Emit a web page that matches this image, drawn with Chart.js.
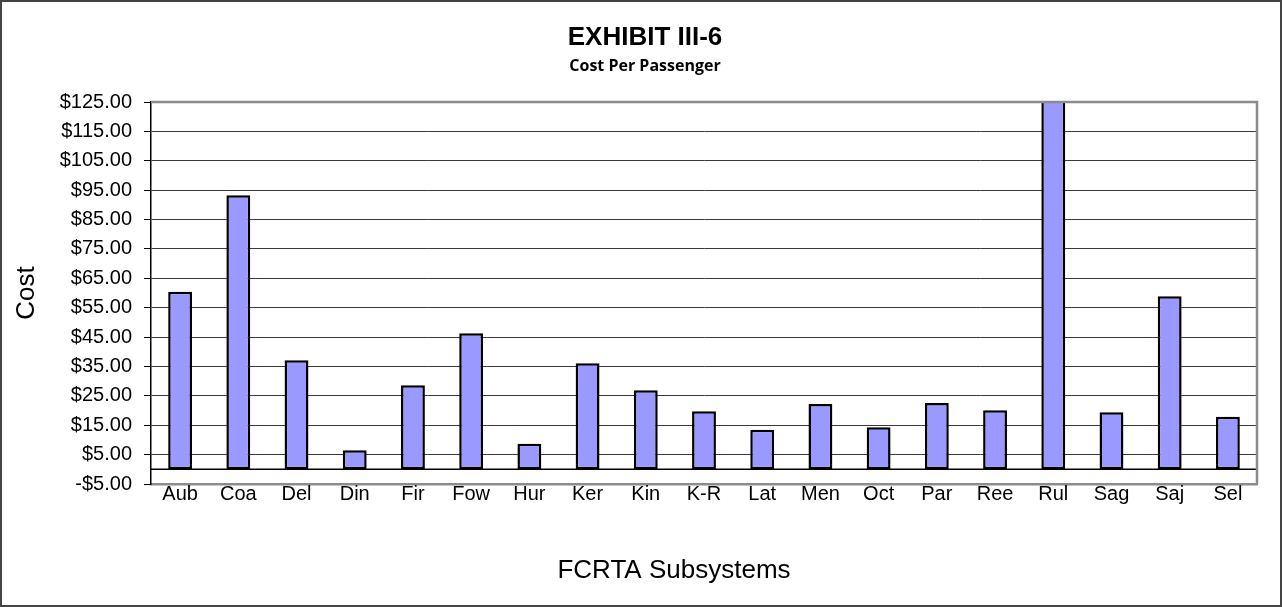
<!DOCTYPE html>
<html>
<head>
<meta charset="utf-8">
<title>Exhibit III-6</title>
<script src="https://cdn.jsdelivr.net/npm/chart.js@4.4.1/dist/chart.umd.min.js"></script>
<style>
    html, body { margin: 0; padding: 0; background: #fff; }
    #wrap { width: 1282px; height: 607px; }
</style>
</head>
<body>
<div id="wrap"><canvas id="costChart" width="1282" height="607"></canvas></div>
<script>
// Dados do gráfico
var subsistemas = ['Aub', 'Coa', 'Del', 'Din', 'Fir', 'Fow', 'Hur', 'Ker', 'Kin', 'K-R',
                   'Lat', 'Men', 'Oct', 'Par', 'Ree', 'Rul', 'Sag', 'Saj', 'Sel'];
var custoPorPassageiro = [60.4, 93.3, 37.1, 6.5, 28.6, 46.3, 8.7, 36.1, 26.9, 19.8,
                          13.5, 22.2, 14.3, 22.6, 20.1, 150.0, 19.4, 58.9, 17.9];
var yTicks = [-5, 5, 15, 25, 35, 45, 55, 65, 75, 85, 95, 105, 115, 125];

var tituloPrincipal = 'EXHIBIT III-6';
var subtitulo = 'Cost Per Passenger';
var tituloEixoX = 'FCRTA Subsystems';

(function() {
    Chart.defaults.font.family = "'Liberation Sans', Arial, sans-serif";
    Chart.defaults.color = '#000';

    function formatMoeda(value) {
        if (value < 0) return '-$' + Math.abs(value).toFixed(2);
        return '$' + value.toFixed(2);
    }

    // Titulos, linha do zero e bordas
    var decoracao = {
        id: 'decoracao',
        afterDatasetsDraw: function(chart) {
            var ctx = chart.ctx;
            var area = chart.chartArea;
            var y0 = chart.scales.y.getPixelForValue(0);
            ctx.save();
            ctx.strokeStyle = '#000';
            ctx.lineWidth = 1.5;
            ctx.beginPath();
            ctx.moveTo(area.left, y0);
            ctx.lineTo(area.right, y0);
            ctx.stroke();

            // borda cinza do plot (topo e direita)
            ctx.strokeStyle = '#8c8c8c';
            ctx.lineWidth = 2.5;
            ctx.beginPath();
            ctx.moveTo(area.left, area.top);
            ctx.lineTo(area.right, area.top);
            ctx.lineTo(area.right, area.bottom);
            ctx.stroke();
            ctx.restore();
        },
        afterDraw: function(chart) {
            var ctx = chart.ctx;
            ctx.save();
            ctx.fillStyle = '#000';
            ctx.textAlign = 'center';
            ctx.textBaseline = 'middle';
            ctx.font = "bold 26px 'Liberation Sans', Arial, sans-serif";
            ctx.fillText(tituloPrincipal, 645, 38);
            ctx.font = "bold 16px 'Open Sans', sans-serif";
            ctx.fillText(subtitulo, 645, 66);
            ctx.font = "26px 'Liberation Sans', Arial, sans-serif";
            ctx.fillText(tituloEixoX, 674, 571);

            // moldura externa
            ctx.strokeStyle = '#444';
            ctx.lineWidth = 2;
            ctx.strokeRect(1, 1, chart.width - 2, chart.height - 2);
            ctx.restore();
        }
    };

    var ctx = document.getElementById('costChart');

    new Chart(ctx, {
        type: 'bar',
        data: {
            labels: subsistemas,
            datasets: [{
                label: 'Cost',
                data: custoPorPassageiro,
                backgroundColor: '#9999ff',
                borderColor: '#000',
                borderWidth: 2.5,
                borderSkipped: false,
                barPercentage: 0.41,
                categoryPercentage: 1,
                clip: 0
            }]
        },
        options: {
            responsive: false,
            animation: false,
            devicePixelRatio: 1,
            layout: { padding: { left: 0, right: 25, top: 102, bottom: 0 } },
            plugins: {
                legend: { display: false },
                tooltip: { enabled: false }
            },
            scales: {
                x: {
                    grid: { display: false, drawTicks: false },
                    border: { display: true, color: '#8c8c8c', width: 2.5 },
                    ticks: { font: { size: 20 }, padding: -2, maxRotation: 0, autoSkip: false },
                    afterFit: function(scale) { scale.height = 123; }
                },
                y: {
                    min: -5,
                    max: 125,
                    afterBuildTicks: function(scale) {
                        scale.ticks = yTicks.map(function(v) { return { value: v }; });
                    },
                    grid: {
                        color: function(c) {
                            var v = c.tick ? c.tick.value : 0;
                            return (v === -5 || v === 125) ? '#8c8c8c' : '#3a3a3a';
                        },
                        lineWidth: 1,
                        drawTicks: true,
                        tickLength: 7,
                        tickColor: '#000'
                    },
                    border: { display: true, color: '#000', width: 1.5 },
                    ticks: {
                        font: { size: 20 },
                        padding: 12,
                        callback: function(value) { return formatMoeda(value); }
                    },
                    title: {
                        display: true,
                        text: 'Cost',
                        font: { size: 26 },
                        padding: { top: 11, bottom: 0 }
                    },
                    afterFit: function(scale) { scale.width = 151; }
                }
            }
        },
        plugins: [decoracao]
    });
})();
</script>
</body>
</html>
